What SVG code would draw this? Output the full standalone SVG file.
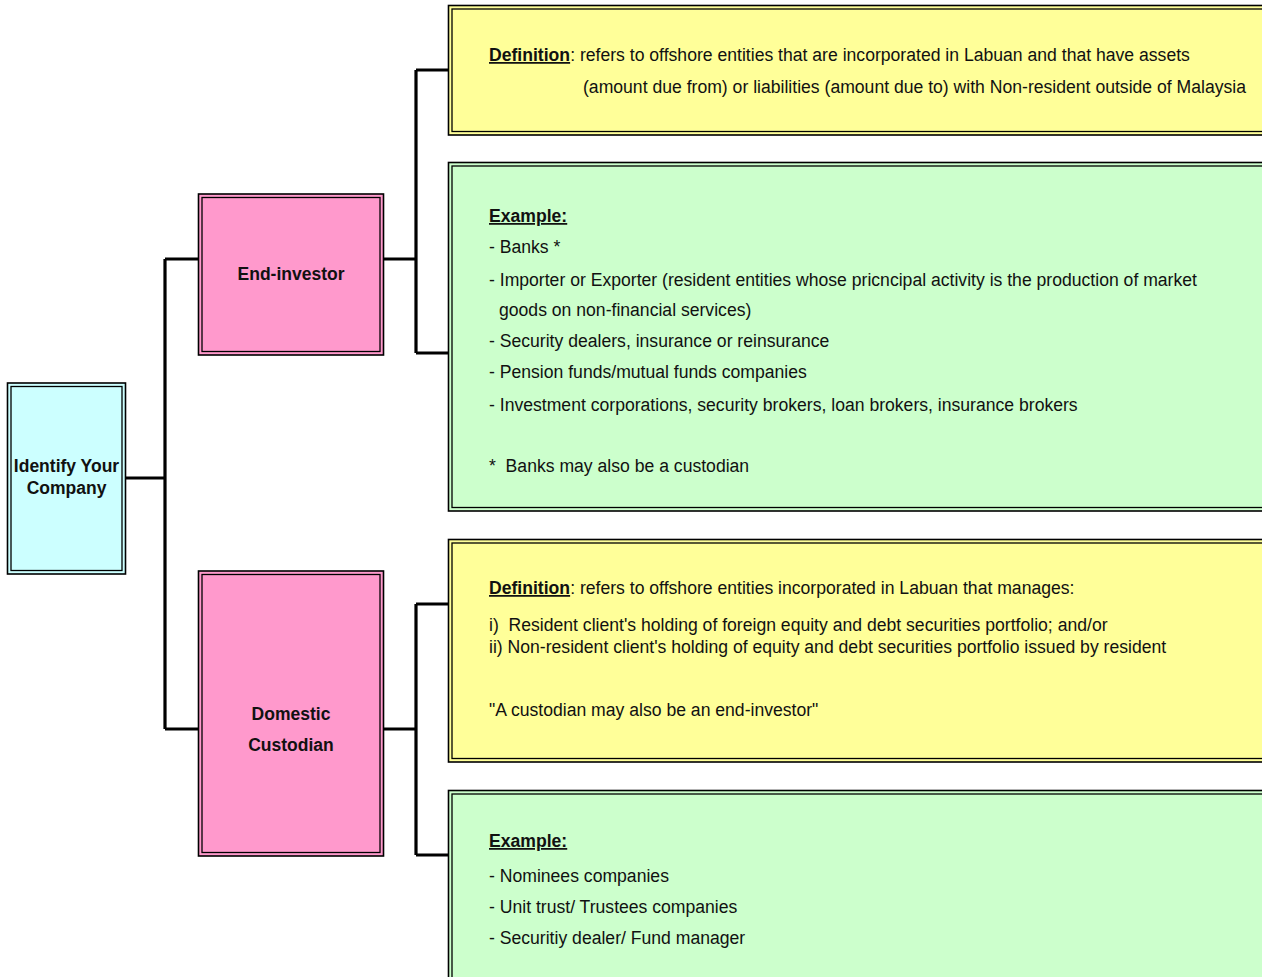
<svg xmlns="http://www.w3.org/2000/svg" width="1262" height="977" viewBox="0 0 1262 977">
<style>
.o{stroke:#000;stroke-width:1.6}
.i{fill:none;stroke:#000;stroke-width:1.3}
.cy{fill:#CCFFFF}.pk{fill:#FF99CC}.ye{fill:#FFFF99}.gr{fill:#CCFFCC}
text{font-family:"Liberation Sans",Arial,sans-serif;fill:#111}
.t{font-size:17.6px}
.n{font-size:17.5px;font-weight:bold;text-anchor:middle}
.b{font-weight:bold;text-decoration:underline}
.c{fill:none;stroke:#000;stroke-width:3.2}
</style>
<rect width="1262" height="977" fill="#fff"/>
<g id="connectors">
<path class="c" d="M126 478H165M165 259V729M165 259H199M165 729H199M384 259H416M416 70V353M416 70H449M416 353H449M384 729H416M416 604V855M416 604H449M416 855H449"/>
</g>
<g id="identify">
<rect class="o cy" x="7.5" y="383" width="118" height="191"/>
<rect class="i" x="11" y="386.5" width="111" height="184"/>
<text class="n" x="66.5" y="472">Identify Your</text>
<text class="n" x="66.5" y="494">Company</text>
</g>
<g id="end-investor">
<rect class="o pk" x="198.5" y="194" width="185" height="161"/>
<rect class="i" x="202" y="197.5" width="178" height="154"/>
<text class="n" x="291" y="280">End-investor</text>
</g>
<g id="domestic-custodian">
<rect class="o pk" x="198.5" y="571" width="185" height="285"/>
<rect class="i" x="202" y="574.5" width="178" height="278"/>
<text class="n" x="291" y="720">Domestic</text>
<text class="n" x="291" y="751">Custodian</text>
</g>
<g id="def-end-investor">
<rect class="o ye" x="448.5" y="5.5" width="840" height="129.5"/>
<rect class="i" x="452" y="9" width="840" height="122.5"/>
<text class="t" x="489" y="61"><tspan class="b">Definition</tspan>: refers to offshore entities that are incorporated in Labuan and that have assets</text>
<text class="t" x="583" y="93">(amount due from) or liabilities (amount due to) with Non-resident outside of Malaysia</text>
</g>
<g id="ex-end-investor">
<rect class="o gr" x="448.5" y="162.5" width="840" height="348.5"/>
<rect class="i" x="452" y="166" width="840" height="341.5"/>
<text class="t" x="489" y="222"><tspan class="b">Example:</tspan></text>
<text class="t" x="489" y="252.5">- Banks *</text>
<text class="t" x="489" y="285.5">- Importer or Exporter (resident entities whose pricncipal activity is the production of market</text>
<text class="t" x="499" y="316">goods on non-financial services)</text>
<text class="t" x="489" y="346.5">- Security dealers, insurance or reinsurance</text>
<text class="t" x="489" y="377.5">- Pension funds/mutual funds companies</text>
<text class="t" x="489" y="410.5">- Investment corporations, security brokers, loan brokers, insurance brokers</text>
<text class="t" x="489" y="471.5" xml:space="preserve">*  Banks may also be a custodian</text>
</g>
<g id="def-custodian">
<rect class="o ye" x="448.5" y="539.5" width="840" height="222.5"/>
<rect class="i" x="452" y="543" width="840" height="215.5"/>
<text class="t" x="489" y="594"><tspan class="b">Definition</tspan>: refers to offshore entities incorporated in Labuan that manages:</text>
<text class="t" x="489" y="631" xml:space="preserve">i)  Resident client's holding of foreign equity and debt securities portfolio; and/or</text>
<text class="t" x="489" y="652.5">ii) Non-resident client's holding of equity and debt securities portfolio issued by resident</text>
<text class="t" x="489" y="715.5">"A custodian may also be an end-investor"</text>
</g>
<g id="ex-custodian">
<rect class="o gr" x="448.5" y="790.5" width="840" height="220"/>
<rect class="i" x="452" y="794" width="840" height="220"/>
<text class="t" x="489" y="847"><tspan class="b">Example:</tspan></text>
<text class="t" x="489" y="882">- Nominees companies</text>
<text class="t" x="489" y="913">- Unit trust/ Trustees companies</text>
<text class="t" x="489" y="944">- Securitiy dealer/ Fund manager</text>
</g>
</svg>
